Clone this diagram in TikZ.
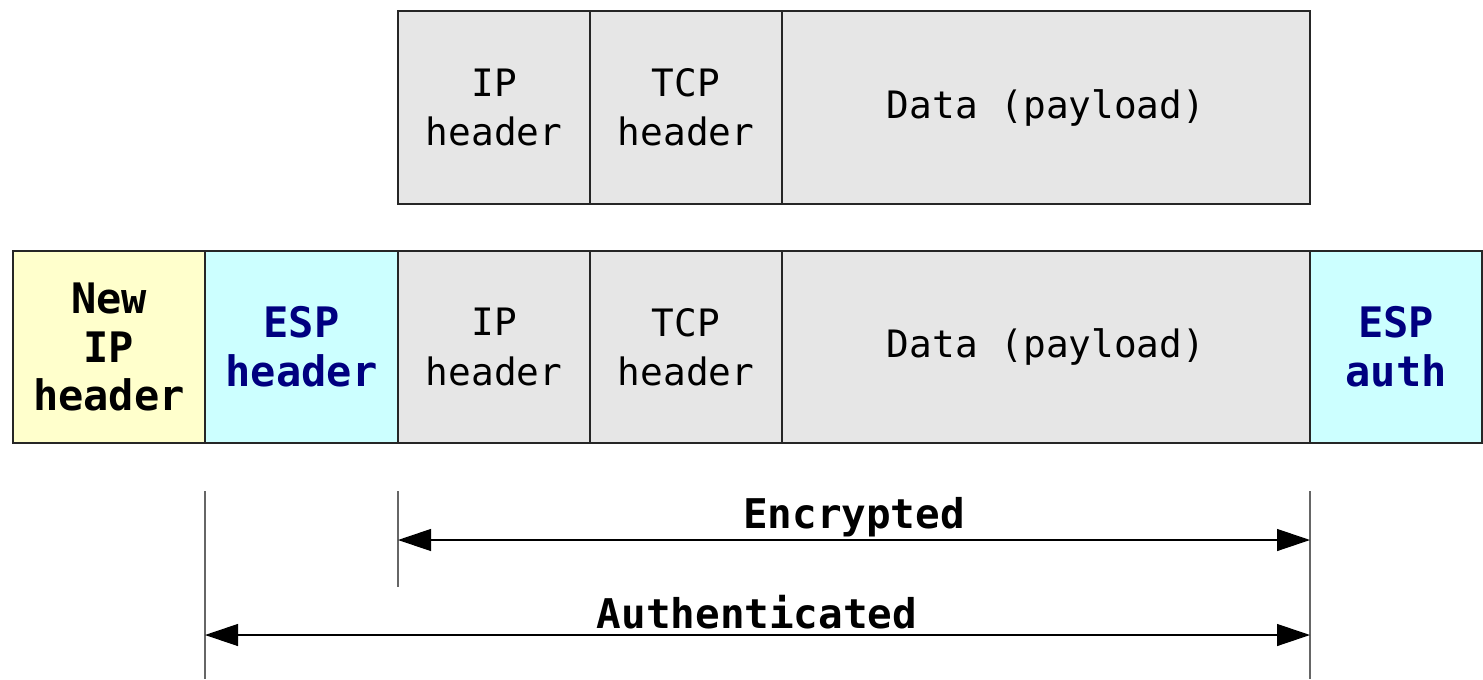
\documentclass[tikz,border=0pt]{standalone}
\usepackage{fontspec}
\setmainfont{DejaVu Sans Mono}
\usetikzlibrary{arrows.meta}
\definecolor{cellgray}{HTML}{E6E6E6}
\definecolor{cellyellow}{HTML}{FFFFCC}
\definecolor{cellcyan}{HTML}{CCFFFF}
\definecolor{navytext}{HTML}{000080}
\tikzset{
  cell/.style={draw=black!85, line width=0.9pt, inner sep=0pt, align=center,
    minimum height=192*0.75pt, font=\fontsize{28.3}{37}\selectfont},
  graycell/.style={cell, fill=cellgray},
  boldcell/.style={cell, font=\fontsize{31.5}{36.5}\selectfont\bfseries},
  guide/.style={line width=0.8pt, black!60},
  dimarrow/.style={line width=0.9pt, {Triangle[length=33*0.75pt,width=22*0.75pt]}-{Triangle[length=33*0.75pt,width=22*0.75pt]}},
  dimlabel/.style={font=\fontsize{30.7}{36}\selectfont\bfseries, inner sep=0pt}
}
\begin{document}
\begin{tikzpicture}[x=0.75pt, y=-0.75pt]
\useasboundingbox (0,0) rectangle (1483,679);
% top row
\node[graycell, minimum width=192*0.75pt, minimum height=193*0.75pt] (ip1) at (494,107.5) {IP\\header};
\node[graycell, minimum width=192*0.75pt, minimum height=193*0.75pt] (tcp1) at (686,107.5) {TCP\\header};
\node[graycell, minimum width=528*0.75pt, minimum height=193*0.75pt] (data1) at (1046,107.5) {Data (payload)};
% second row
\node[boldcell, fill=cellyellow, minimum width=192*0.75pt] (newip) at (109,347) {New\\IP\\header};
\node[boldcell, fill=cellcyan, text=navytext, minimum width=193*0.75pt] (esph) at (301.5,347) {ESP\\header};
\node[graycell, minimum width=192*0.75pt] (ip2) at (494,347) {IP\\header};
\node[graycell, minimum width=192*0.75pt] (tcp2) at (686,347) {TCP\\header};
\node[graycell, minimum width=528*0.75pt] (data2) at (1046,347) {Data (payload)};
\node[boldcell, fill=cellcyan, text=navytext, minimum width=172*0.75pt] (espa) at (1396,347) {ESP\\auth};
% guide lines
\coordinate (gA1) at (205,491); \coordinate (gA2) at (205,679);
\coordinate (gB1) at (398,491); \coordinate (gB2) at (398,587);
\coordinate (gC1) at (1310,491); \coordinate (gC2) at (1310,679);
\draw[guide] (gA1) -- (gA2);
\draw[guide] (gB1) -- (gB2);
\draw[guide] (gC1) -- (gC2);
% arrows
\coordinate (encL) at (398,540); \coordinate (encR) at (1310,540);
\coordinate (autL) at (205,635); \coordinate (autR) at (1310,635);
\draw[dimarrow] (encL) -- (encR);
\draw[dimarrow] (autL) -- (autR);
\node[dimlabel] (enc) at (854,517) {Encrypted};
\node[dimlabel] (aut) at (757,612) {Authenticated};
\end{tikzpicture}
\end{document}
